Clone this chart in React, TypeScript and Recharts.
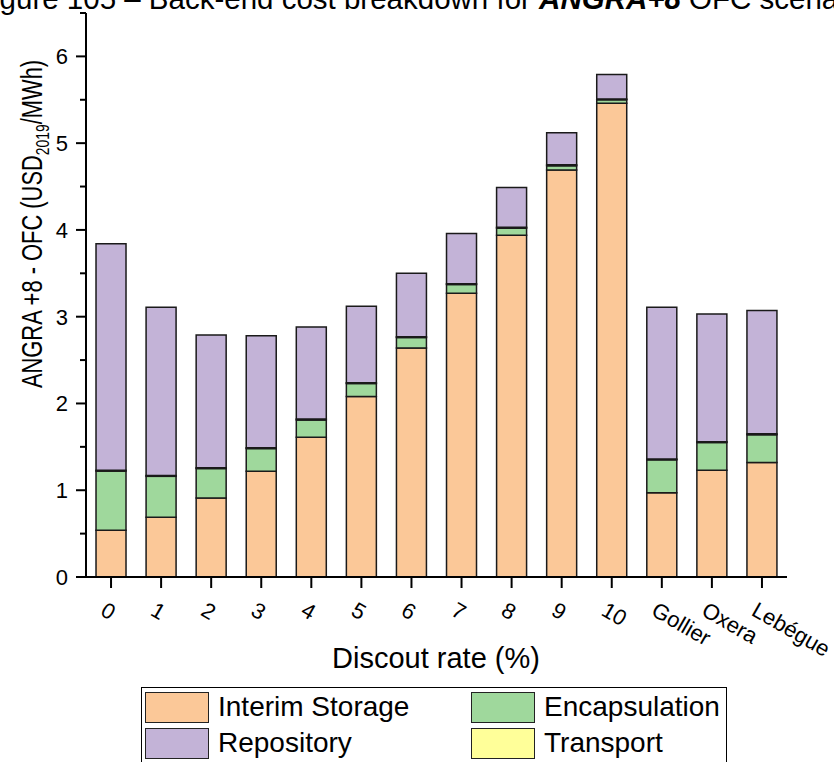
import { BarChart, Bar, XAxis, YAxis } from 'recharts';

// discount-rate scenarios and the three reference methods
const categories = ['0', '1', '2', '3', '4', '5', '6', '7', '8', '9', '10', 'Gollier', 'Oxera', 'Lebégue'];

// USD2019/MWh per back-end component
const interimStorage = [0.54, 0.69, 0.91, 1.22, 1.61, 2.08, 2.64, 3.27, 3.94, 4.69, 5.46, 0.97, 1.23, 1.32];
const encapsulation = [0.68, 0.47, 0.34, 0.26, 0.2, 0.15, 0.12, 0.1, 0.08, 0.05, 0.04, 0.38, 0.32, 0.32];
const transport = [0.01, 0.01, 0.01, 0.01, 0.01, 0.01, 0.01, 0.01, 0.01, 0.01, 0.01, 0.01, 0.01, 0.01];
const repository = [2.61, 1.94, 1.53, 1.29, 1.06, 0.88, 0.73, 0.58, 0.46, 0.37, 0.28, 1.75, 1.47, 1.42];

const yTicks = [0, 0.5, 1, 1.5, 2, 2.5, 3, 3.5, 4, 4.5, 5, 5.5, 6, 6.5];

const series = [
  { key: 'interim', name: 'Interim Storage', color: '#FBC898', values: interimStorage },
  { key: 'encapsulation', name: 'Encapsulation', color: '#9FD89C', values: encapsulation },
  { key: 'transport', name: 'Transport', color: '#FFFF99', values: transport },
  { key: 'repository', name: 'Repository', color: '#C3B3D7', values: repository },
];

const data = categories.map((name, i) => {
  const row: Record<string, string | number> = { name };
  series.forEach((s) => {
    row[s.key] = s.values[i];
  });
  return row;
});

const FONT = '"Liberation Sans", Arial, sans-serif';

// integer ticks get a label and a long mark, half steps only a short mark
function YTick({ x, y, payload }: any) {
  const major = Number.isInteger(payload.value);
  return (
    <g>
      <line x1={x} x2={x - (major ? 10 : 6)} y1={y} y2={y} stroke="#000" strokeWidth={2} />
      {major && (
        <text x={x - 18} y={y} dy="0.36em" textAnchor="end" fontSize={22} fill="#000" fontFamily={FONT}>
          {payload.value}
        </text>
      )}
    </g>
  );
}

// category labels turned 30° clockwise, starting just left of the tick
function XTick({ x, y, payload }: any) {
  const sx = x - 8;
  const sy = y + 18;
  return (
    <text
      x={sx}
      y={sy}
      dominantBaseline="central"
      textAnchor="start"
      fontSize={22}
      fill="#000"
      fontFamily={FONT}
      transform={`rotate(30, ${sx}, ${sy})`}
    >
      {payload.value}
    </text>
  );
}

// legend laid out in two columns
const legendRows = [
  [series[0], series[1]],
  [series[3], series[2]],
];

function LegendBox() {
  return (
    <div
      style={{
        position: 'absolute',
        left: 141,
        top: 687,
        width: 586,
        height: 90,
        border: '1.5px solid #000',
        boxSizing: 'border-box',
        fontFamily: FONT,
        fontSize: 28,
        color: '#000',
      }}
    >
      {legendRows.map((row, r) => (
        <div key={r} style={{ display: 'flex', height: 36, alignItems: 'center', marginTop: r === 0 ? 1 : 0 }}>
          {row.map((s, c) => (
            <div key={s.key} style={{ display: 'flex', alignItems: 'center', width: c === 0 ? 326 : 258 }}>
              <div
                style={{
                  width: 64,
                  height: 31,
                  marginLeft: 3,
                  background: s.color,
                  border: '1.5px solid #222',
                  boxSizing: 'border-box',
                }}
              />
              <span style={{ marginLeft: 9 }}>{s.name}</span>
            </div>
          ))}
        </div>
      ))}
    </div>
  );
}

export default function App() {
  return (
    <div style={{ position: 'absolute', left: 0, top: 0, width: 834, height: 762, background: '#fff', overflow: 'hidden' }}>
      <BarChart
        width={834}
        height={762}
        data={data}
        margin={{ top: 13, right: 47, left: 0, bottom: 155 }}
        barCategoryGap="20%"
      >
        <text x={-25} y={9} fontSize={29.5} fill="#000" fontFamily={FONT}>
          Figure 105 – Back-end cost breakdown for{' '}
          <tspan fontWeight="bold" fontStyle="italic">ANGRA+8</tspan> OFC scenario
        </text>
        <XAxis
          dataKey="name"
          interval={0}
          height={30}
          tickSize={11}
          axisLine={{ stroke: '#000', strokeWidth: 2 }}
          tickLine={{ stroke: '#000', strokeWidth: 2 }}
          tick={<XTick />}
        />
        <YAxis
          width={86}
          domain={[0, 6.5]}
          ticks={yTicks}
          interval={0}
          tickSize={0}
          tickMargin={0}
          axisLine={{ stroke: '#000', strokeWidth: 2 }}
          tickLine={false}
          tick={<YTick />}
        />
        <text x={436} y={668} textAnchor="middle" fontSize={29} fill="#000" fontFamily={FONT}>
          Discout rate (%)
        </text>
        <text
          transform="translate(42, 224) rotate(-90) scale(0.73, 1)"
          textAnchor="middle"
          fontSize={30}
          fill="#000"
          fontFamily={FONT}
        >
          ANGRA +8 - OFC (USD
          <tspan dy={7} fontSize={19}>2019</tspan>
          <tspan dy={-7}>/MWh)</tspan>
        </text>
        {series.map((s) => (
          <Bar
            key={s.key}
            dataKey={s.key}
            name={s.name}
            stackId="cost"
            fill={s.color}
            stroke="#1a1a1a"
            strokeWidth={1.5}
            isAnimationActive={false}
          />
        ))}
      </BarChart>
      <LegendBox />
    </div>
  );
}
